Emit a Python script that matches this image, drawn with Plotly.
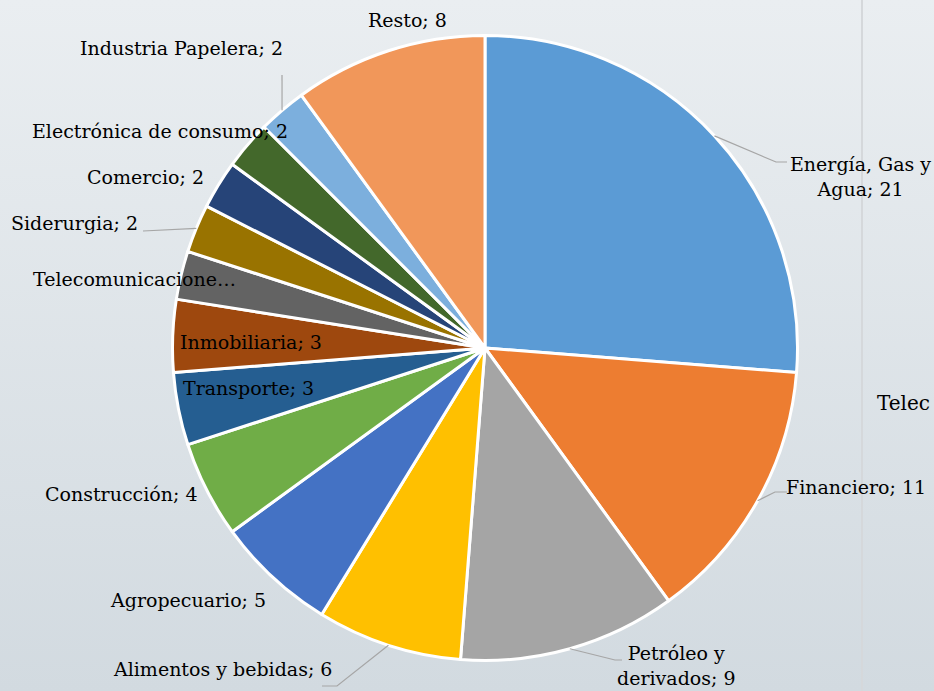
import math
import base64
import plotly.graph_objects as go

# ---- data ----
sectores = ["Energía, Gas y Agua", "Financiero", "Petróleo y derivados", "Alimentos y bebidas",
            "Agropecuario", "Construcción", "Transporte", "Inmobiliaria", "Telecomunicaciones",
            "Siderurgia", "Comercio", "Electrónica de consumo", "Industria Papelera", "Resto"]
valores = [21, 11, 9, 6, 5, 4, 3, 3, 2, 2, 2, 2, 2, 8]
etiquetas = ["Energía, Gas y<br>Agua; 21", "Financiero; 11", "Petróleo y<br>derivados; 9",
             "Alimentos y bebidas; 6", "Agropecuario; 5", "Construcción; 4", "Transporte; 3",
             "Inmobiliaria; 3", "Telecomunicacione…", "Siderurgia; 2", "Comercio; 2",
             "Electrónica de consumo; 2", "Industria Papelera; 2", "Resto; 8"]
colores = ["#5B9BD5", "#ED7D31", "#A5A5A5", "#FFC000", "#4472C4", "#70AD47", "#255E91",
           "#9E480E", "#636363", "#997300", "#264478", "#43682B", "#7CAFDD", "#F1975A"]

# ---- layout (pixels) ----
W, H = 934, 691
CX, CY, R = 485, 348, 312.5
FONT = "DejaVu Serif"
FSIZE = 19
label_pos = [(860, 176), (856, 487), (676, 665), (222, 669), (188, 600), (121, 494), (248, 388),
             (251, 342), (134, 279), (74, 223), (145, 177), (160, 131), (181, 48), (407, 20)]
# leader line elbows/ends (None = no leader)
leaders = [[(776, 162), (787, 162)], [(775, 492), (787, 492)], [(615, 660), (622, 660)],
           [(337, 686), (322, 686)], None, None, None, None, None,
           [(143, 231)], None, None, [(282, 75)], None]

def px(x):
    return x / W

def py(y):
    return 1 - y / H

fig = go.Figure()
fig.add_trace(go.Pie(
    labels=sectores, values=valores, sort=False, direction="clockwise", rotation=0,
    marker=dict(colors=colores, line=dict(color="white", width=3)),
    textinfo="none", hoverinfo="label+value", showlegend=False,
    domain=dict(x=[px(CX - R), px(CX + R)], y=[py(CY + R), py(CY - R)]),
))

total = sum(valores)
cum = 0
shapes = []
annotations = []
for i, v in enumerate(valores):
    mid = (cum + v / 2) / total * 2 * math.pi
    cum += v
    ex = CX + R * math.sin(mid)
    ey = CY - R * math.cos(mid)
    lx, ly = label_pos[i]
    annotations.append(dict(x=px(lx), y=py(ly), xref="paper", yref="paper", text=etiquetas[i],
                            showarrow=False, xanchor="center", yanchor="middle",
                            font=dict(family=FONT, size=FSIZE, color="#000000")))
    if leaders[i]:
        path = f"M {px(ex)} {py(ey)}"
        for (qx, qy) in leaders[i]:
            path += f" L {px(qx)} {py(qy)}"
        shapes.append(dict(type="path", path=path, xref="paper", yref="paper",
                           line=dict(color="#A6A6A6", width=1.2)))

# divider line and neighbour chart text
shapes.append(dict(type="line", x0=px(862), x1=px(862), y0=0, y1=1, xref="paper", yref="paper",
                   line=dict(color="#D5D8DB", width=2), layer="below"))
annotations.append(dict(x=px(932), y=py(403), xref="paper", yref="paper", text="Telec",
                        showarrow=False, xanchor="right", yanchor="middle",
                        font=dict(family=FONT, size=20, color="#000000")))

svg = ('<svg xmlns="http://www.w3.org/2000/svg" width="100" height="100" preserveAspectRatio="none">'
       '<defs><linearGradient id="g" x1="0" y1="0" x2="0" y2="1">'
       '<stop offset="0" stop-color="#EAEEF1"/><stop offset="1" stop-color="#D2DAE0"/>'
       '</linearGradient></defs><rect width="100" height="100" fill="url(#g)"/></svg>')
src = "data:image/svg+xml;base64," + base64.b64encode(svg.encode()).decode()

fig.update_layout(
    width=W, height=H, margin=dict(l=0, r=0, t=0, b=0),
    paper_bgcolor="#DFE5E9", plot_bgcolor="rgba(0,0,0,0)",
    font=dict(family=FONT),
    shapes=shapes, annotations=annotations,
    images=[dict(source=src, xref="paper", yref="paper", x=0, y=1, sizex=1, sizey=1,
                 sizing="stretch", layer="below", xanchor="left", yanchor="top")],
)
fig.write_html("out.html")
